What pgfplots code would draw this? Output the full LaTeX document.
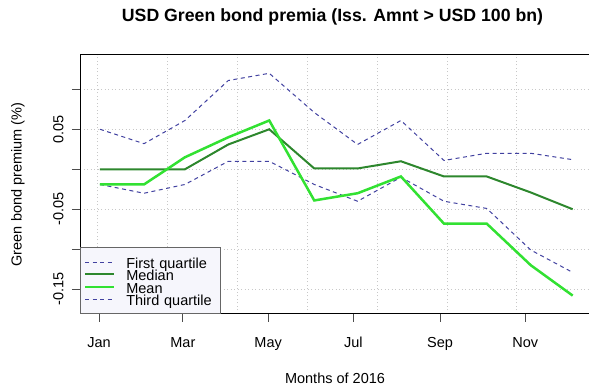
\documentclass[border=0pt]{standalone}
\usepackage{pgfplots}
\pgfplotsset{compat=1.18}
\usepackage{fontspec}
\setmainfont{Liberation Sans}
\definecolor{qcol}{RGB}{65,65,160}
\definecolor{medcol}{RGB}{45,135,45}
\definecolor{meancol}{RGB}{50,225,50}
\definecolor{gridcol}{RGB}{200,200,200}
\definecolor{legfill}{RGB}{246,246,252}
\newcommand{\fs}{\fontsize{14.5}{14.5}\selectfont}
\begin{document}
\begin{tikzpicture}
\path[use as bounding box, clip] (0,0) rectangle (589pt,388pt);
\begin{axis}[
  at={(80pt,74pt)}, anchor=south west,
  scale only axis, width=511pt, height=259pt,
  xmin=-13.6, xmax=352.0, ymin=-0.181, ymax=0.1429,
  axis line style={black, line width=1pt},
  tick align=outside, major tick length=8pt,
  tick style={black!70, line width=1pt},
  xtick={0,60,121,182,244,305},
  xticklabels={Jan,Mar,May,Jul,Sep,Nov},
  xtick pos=bottom, ytick pos=left,
  minor xtick={-1,49,99,149,199,249,299},
  minor tick length=0pt,
  xminorgrids, ymajorgrids,
  minor grid style={gridcol, line width=1pt, dash pattern=on 1pt off 2.5pt},
  major grid style={gridcol, line width=1pt, dash pattern=on 1pt off 2.5pt},
  ytick={-0.15,-0.1,-0.05,0,0.05,0.1},
  yticklabels={-0.15,,-0.05,,0.05,},
  tick label style={font=\fs},
  xticklabel style={anchor=base, yshift=-25.7pt},
  yticklabel style={xshift=-8.5pt, rotate=90, anchor=base},
  legend cell align=left,
  legend image code/.code={\draw[#1] (0pt,0pt) -- (29pt,0pt);},
  legend style={at={(0,0)}, anchor=south west, draw=black!60, fill=legfill,
    line width=1pt, inner xsep=3.3pt, inner ysep=8pt, row sep=0pt, column sep=11pt,
    font=\fs,
    nodes={inner xsep=0pt, inner ysep=0pt, text height=12.4pt, text depth=0pt, text width=90.7pt, align=left}},
]
\addplot[qcol, line width=1pt, dash pattern=on 4pt off 3.5pt] coordinates {
(0.7,-0.019) (32.2,-0.030) (61.5,-0.019) (92.5,0.010) (121.8,0.010) (154,-0.019)
(185,-0.040) (216,-0.010) (246.8,-0.040) (277.4,-0.049) (308.9,-0.101) (338.9,-0.129)};
\addlegendentry{First quartile}
\addplot[medcol, line width=2pt] coordinates {
(0.7,0) (32.2,0) (61.5,0) (92.5,0.031) (121.8,0.050) (154,0.001)
(185,0.001) (216,0.010) (246.8,-0.009) (277.4,-0.009) (308.9,-0.029) (338.9,-0.050)};
\addlegendentry{Median}
\addplot[meancol, line width=2.5pt] coordinates {
(0.7,-0.019) (32.2,-0.019) (61.5,0.015) (92.5,0.040) (121.8,0.061) (154,-0.039)
(185,-0.030) (216,-0.009) (246.8,-0.068) (277.4,-0.068) (308.9,-0.120) (338.9,-0.158)};
\addlegendentry{Mean}
\addplot[qcol, line width=1pt, dash pattern=on 4pt off 3.5pt] coordinates {
(0.7,0.050) (32.2,0.032) (61.5,0.061) (92.5,0.111) (121.8,0.120) (154,0.071)
(185,0.031) (216,0.061) (246.8,0.011) (277.4,0.020) (308.9,0.020) (338.9,0.012)};
\addlegendentry{Third quartile}
\end{axis}
\node[font=\fontsize{17.7}{17.7}\selectfont\bfseries] at (332.5pt,371pt) {USD Green bond premia (Iss. Amnt > USD 100 bn)};
\node[font=\fs] at (335pt,9.7pt) {Months of 2016};
\node[font=\fs, rotate=90] at (18pt,203.5pt) {Green bond premium (\%)};
\end{tikzpicture}
\end{document}
